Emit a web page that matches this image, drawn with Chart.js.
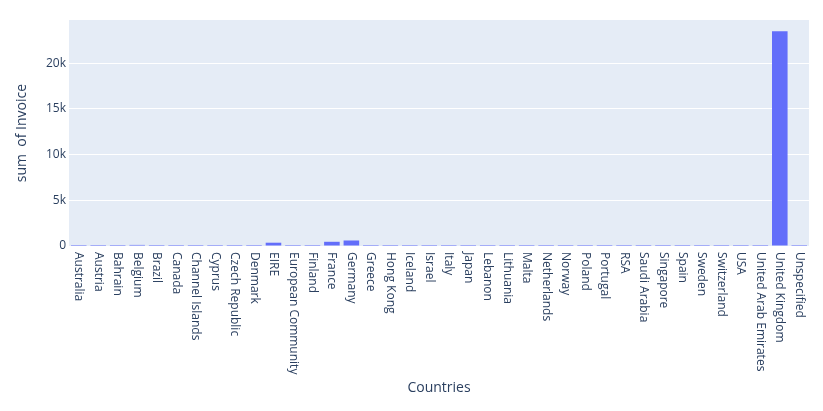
<!DOCTYPE html>
<html>
<head>
<meta charset="utf-8">
<script src="https://cdn.jsdelivr.net/npm/chart.js@4.4.1/dist/chart.umd.min.js"></script>
<style>
    body { margin: 0; background: #fff; }
    canvas { display: block; }
</style>
</head>
<body>
<canvas id="invoice-chart" width="823" height="411"></canvas>
<script>
// unique invoices per country
const countries = [
    'Australia', 'Austria', 'Bahrain', 'Belgium', 'Brazil', 'Canada', 'Channel Islands', 'Cyprus',
    'Czech Republic', 'Denmark', 'EIRE', 'European Community', 'Finland', 'France', 'Germany',
    'Greece', 'Hong Kong', 'Iceland', 'Israel', 'Italy', 'Japan', 'Lebanon', 'Lithuania', 'Malta',
    'Netherlands', 'Norway', 'Poland', 'Portugal', 'RSA', 'Saudi Arabia', 'Singapore', 'Spain',
    'Sweden', 'Switzerland', 'USA', 'United Arab Emirates', 'United Kingdom', 'Unspecified'
];
const invoiceCounts = [
    69, 19, 4, 119, 1, 6, 33, 20,
    5, 21, 360, 5, 48, 461, 603,
    6, 15, 7, 9, 55, 28, 1, 4, 10,
    101, 40, 24, 71, 1, 2, 10, 105,
    46, 74, 7, 3, 23494, 13
];
const yTicks = [0, 5000, 10000, 15000, 20000];

const textColor = '#2a3f5f';
const fontFamily = '"Open Sans", "DejaVu Sans", sans-serif';

// plotly style plot background
const plotBackground = {
    id: 'plotBackground',
    beforeDraw(chart) {
        const {ctx, chartArea} = chart;
        ctx.save();
        ctx.fillStyle = '#E5ECF6';
        ctx.fillRect(chartArea.left, chartArea.top, chartArea.right - chartArea.left, chartArea.bottom - chartArea.top);
        ctx.restore();
    }
};

// category labels rotated clockwise, reading top to bottom
const rotatedLabels = {
    id: 'rotatedLabels',
    afterDraw(chart) {
        const {ctx} = chart;
        const xScale = chart.scales.x;
        ctx.save();
        ctx.fillStyle = textColor;
        ctx.font = '12px ' + fontFamily;
        ctx.textAlign = 'left';
        ctx.textBaseline = 'middle';
        chart.data.labels.forEach((label, i) => {
            let x = xScale.getPixelForValue(i);
            ctx.save();
            ctx.translate(x, xScale.top + 6);
            ctx.rotate(Math.PI / 2);
            ctx.fillText(label, 0, 0);
            ctx.restore();
        });
        ctx.restore();
    }
};

new Chart(document.getElementById('invoice-chart'), {
    type: 'bar',
    data: {
        labels: countries,
        datasets: [
            {
                data: invoiceCounts,
                backgroundColor: '#636efa',
                borderWidth: 0,
                inflateAmount: 0,
                minBarLength: 1,
                barPercentage: 0.8,
                categoryPercentage: 1
            }
        ]
    },
    options: {
        responsive: false,
        animation: false,
        devicePixelRatio: 1,
        layout: {
            padding: {top: 20, right: 14, left: 0, bottom: 0}
        },
        plugins: {
            legend: {display: false},
            tooltip: {enabled: false}
        },
        scales: {
            x: {
                grid: {display: false},
                border: {display: false},
                ticks: {display: false},
                title: {
                    display: true,
                    text: 'Countries',
                    color: textColor,
                    font: {family: fontFamily, size: 14},
                    padding: {top: 15, bottom: 15}
                },
                afterFit(scale) {
                    scale.height = 165;
                }
            },
            y: {
                min: 0,
                max: 24730,
                afterBuildTicks(scale) {
                    scale.ticks = yTicks.map(v => ({value: v}));
                },
                grid: {
                    color: '#ffffff',
                    lineWidth: 1,
                    drawTicks: false
                },
                border: {display: false},
                ticks: {
                    color: textColor,
                    font: {family: fontFamily, size: 12},
                    padding: 3,
                    callback: v => v === 0 ? '0' : (v / 1000) + 'k'
                },
                title: {
                    display: true,
                    text: 'sum  of Invoice',
                    color: textColor,
                    font: {family: fontFamily, size: 14},
                    padding: {top: 14, bottom: 14}
                },
                afterFit(scale) {
                    scale.width = 69;
                }
            }
        }
    },
    plugins: [plotBackground, rotatedLabels]
});
</script>
</body>
</html>
